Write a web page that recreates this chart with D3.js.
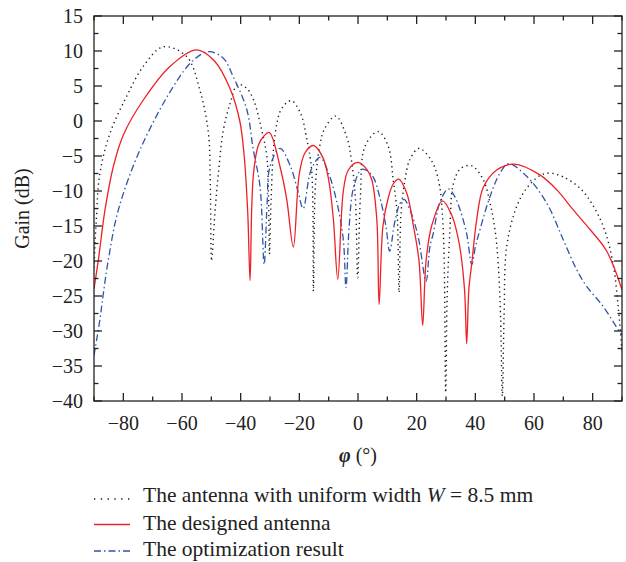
<!DOCTYPE html>
<html>
<head>
<meta charset="utf-8">
<script src="https://cdn.jsdelivr.net/npm/d3@7"></script>
<style>
  body { margin: 0; background: #fff; }
  svg text { font-family: "Liberation Serif", "DejaVu Serif", serif; fill: #222; }
</style>
</head>
<body>
<div id="chart"></div>
<script>
// Radiation pattern data: [phi (deg), gain (dB)]
var uniformWidth = [[-90,-21],[-89.2,-14],[-88,-7.5],[-84.5,-1.7],[-78.9,3.5],[-73.2,7.8],[-66.4,10.6],
  [-58.4,9.2],[-53.9,4.4],[-51,-1.7],[-50.4,-8],[-49.9,-20],[-48.8,-13.2],[-47.6,-7.5],[-45.9,-1.3],
  [-43.6,2.5],[-41,5.2],[-38,4.7],[-35.6,3],[-33,-1],[-31.1,-5],[-30.5,-11],[-30.2,-19],[-29.6,-11],
  [-28.3,-2],[-26,1.8],[-22.7,2.9],[-19.5,1],[-17.5,-2.5],[-15.8,-7],[-15.2,-24.3],[-14.5,-9],[-13,-3.5],
  [-11.5,-1.2],[-7.6,0.7],[-3.9,-2.2],[-2.1,-6],[-0.9,-11],[-0.1,-22.4],[0.8,-11],[2.4,-3.6],[6.9,-1.5],
  [10.3,-3.6],[12,-8.4],[13.3,-13],[14,-24.5],[14.7,-13],[16,-8.5],[17.7,-5.5],[20.8,-3.9],[24.8,-5.5],
  [27.4,-8.4],[29,-15],[29.9,-38.8],[30.4,-25],[31.3,-16],[32.5,-9],[35,-6.8],[38.8,-6.4],[42.7,-8.4],
  [45,-11.7],[46.7,-15.5],[47.8,-20.3],[48.6,-28],[49.2,-39.3],[49.8,-28],[50.7,-17.9],[54.1,-12.2],
  [57.5,-9.6],[62,-7.8],[65.5,-7.45],[70,-8],[75.7,-9.6],[80,-12],[84,-15.5],[87,-20.5],[88.8,-27],[90,-33]];

var designed = [[-90,-24],[-88.5,-19.8],[-86.25,-12.7],[-83.4,-6.5],[-80,-2],[-73.2,3],[-64.1,7.8],
  [-55,10.15],[-49,8.6],[-43.6,4.6],[-40.3,0],[-38.8,-5],[-37.6,-13],[-36.8,-22.8],[-36.2,-12],[-35.5,-7],
  [-34,-3.5],[-32,-2.1],[-30.2,-1.65],[-26.6,-6.5],[-24.3,-11.2],[-22.05,-18],[-20,-7.5],[-18,-4.5],
  [-15.2,-3.5],[-12,-5.2],[-10,-8.4],[-8.4,-14],[-6.9,-22.6],[-5,-10],[-3.3,-7],[-0.1,-5.9],[3,-6.9],
  [4.7,-8.4],[6.4,-14],[7.2,-26.2],[8.5,-15],[10.3,-11],[12,-9],[13.9,-8.3],[16.6,-10.3],[18.9,-15],
  [20.8,-20],[22.05,-29.2],[23.2,-20],[25.1,-15],[28.8,-11.4],[32,-13.5],[34.5,-17.5],[36.3,-24],
  [37.05,-31.8],[37.8,-24],[38.8,-20.3],[40.5,-14],[42.7,-9.5],[47.3,-7],[53.2,-6.16],[62,-7.7],
  [67.7,-9.8],[73.4,-12.7],[79.1,-15.5],[84.8,-18.6],[90,-24.1]];

var optimized = [[-90,-33.5],[-88,-28.4],[-86.8,-24.6],[-85.1,-19.8],[-81.7,-12.7],[-74.3,-4.1],[-63,4.9],
  [-56.1,8.7],[-50.8,9.9],[-46,9],[-42.5,6.3],[-37.9,1.6],[-35.7,-4.1],[-33.4,-9.35],[-32,-20.5],[-31,-12],
  [-30,-6.5],[-26.6,-3.9],[-23,-6.5],[-20.5,-10],[-18.7,-12.5],[-16,-7],[-12.95,-5.2],[-10,-7.5],[-7,-12],
  [-5,-17],[-4.1,-23.8],[-3,-15],[-1.5,-9.5],[1.3,-6.9],[4.7,-7.7],[7.5,-11],[9.5,-15],[10.8,-18.6],
  [12.5,-14.5],[14.3,-11.8],[15.7,-11.2],[18,-13],[20.5,-16.5],[23.2,-22.9],[24.5,-18],[25.7,-16],
  [28,-11.5],[30.8,-9.7],[33,-10.8],[34.8,-12.7],[37,-16],[38.8,-20.5],[40,-18],[41.6,-15.5],[45,-10.8],
  [48.4,-7.45],[51.3,-6.1],[57.5,-7.9],[64.3,-11.7],[70,-17],[74.5,-21.2],[77.9,-23.6],[83.6,-26.5],
  [88.7,-29.8],[90,-30.5]];

var xTicks = [-80, -60, -40, -20, 0, 20, 40, 60, 80];
var yTicks = [15, 10, 5, 0, -5, -10, -15, -20, -25, -30, -35, -40];

// Layout
var width = 626, height = 562;
var margin = { left: 94, right: 4, top: 16, bottom: 161 };
var plotW = width - margin.left - margin.right;
var plotH = height - margin.top - margin.bottom;

var svg = d3.select("#chart").append("svg")
    .attr("width", width)
    .attr("height", height);

var x = d3.scaleLinear().domain([-90, 90]).range([margin.left, margin.left + plotW]);
var y = d3.scaleLinear().domain([-40, 15]).range([margin.top + plotH, margin.top]);

svg.append("clipPath").attr("id", "plotClip")
  .append("rect")
    .attr("x", margin.left).attr("y", margin.top)
    .attr("width", plotW).attr("height", plotH);

var line = d3.line()
    .x(d => x(d[0]))
    .y(d => y(d[1]))
    .curve(d3.curveCatmullRom.alpha(0.5));

var series = [
  { data: uniformWidth, color: "#1a1a1a", width: 1.4, dash: "1.3,3.6", legendDash: "1.3,5.5" },
  { data: optimized, color: "#2f55a8", width: 1.3, dash: "7,3,1.5,3", legendDash: "7,3,1.5,3" },
  { data: designed, color: "#ee2027", width: 1.3, dash: null, legendDash: null }
];

var curves = svg.append("g").attr("clip-path", "url(#plotClip)");
series.forEach(function(s) {
  curves.append("path")
      .datum(s.data)
      .attr("d", line)
      .attr("fill", "none")
      .attr("stroke", s.color)
      .attr("stroke-width", s.width)
      .attr("stroke-dasharray", s.dash);
});

// Axes: ticks pointing inwards on all four sides
var axisColor = "#222";
var major = 8, minor = 4.5;
var xMinor = d3.range(-90, 91, 10).filter(v => xTicks.indexOf(v) < 0);
var yMinor = d3.range(-37.5, 15, 5);

var axes = svg.append("g").attr("stroke", axisColor).attr("stroke-width", 1.3);

function tickLines(vals, len, isX) {
  vals.forEach(function(v) {
    if (isX) {
      axes.append("line").attr("x1", x(v)).attr("x2", x(v))
          .attr("y1", margin.top + plotH).attr("y2", margin.top + plotH - len);
      axes.append("line").attr("x1", x(v)).attr("x2", x(v))
          .attr("y1", margin.top).attr("y2", margin.top + len);
    } else {
      axes.append("line").attr("y1", y(v)).attr("y2", y(v))
          .attr("x1", margin.left).attr("x2", margin.left + len);
      axes.append("line").attr("y1", y(v)).attr("y2", y(v))
          .attr("x1", margin.left + plotW).attr("x2", margin.left + plotW - len);
    }
  });
}
tickLines(xTicks, major, true);
tickLines(xMinor, minor, true);
tickLines(yTicks, major, false);
tickLines(yMinor, minor, false);

axes.append("rect")
    .attr("x", margin.left).attr("y", margin.top)
    .attr("width", plotW).attr("height", plotH)
    .attr("fill", "none");

var fmt = d3.format("");
var fontSize = 20;

svg.append("g").selectAll("text")
  .data(xTicks)
  .enter().append("text")
    .attr("x", d => x(d))
    .attr("y", 430)
    .attr("text-anchor", "middle")
    .attr("font-size", fontSize)
    .text(d => fmt(d));

svg.append("g").selectAll("text")
  .data(yTicks)
  .enter().append("text")
    .attr("x", 83)
    .attr("y", d => y(d))
    .attr("dy", "0.34em")
    .attr("text-anchor", "end")
    .attr("font-size", fontSize)
    .text(d => fmt(d));

// Axis titles
svg.append("text")
    .attr("transform", "translate(29," + (margin.top + plotH / 2) + ") rotate(-90)")
    .attr("text-anchor", "middle")
    .attr("font-size", fontSize)
    .text("Gain (dB)");

var xt = svg.append("text")
    .attr("x", x(0))
    .attr("y", 462)
    .attr("text-anchor", "middle")
    .attr("font-size", fontSize);
xt.append("tspan").attr("font-style", "italic").attr("font-weight", "bold").text("φ");
xt.append("tspan").text(" (°)");

// Legend
var legendSize = 21.5;
var legend = svg.append("g");
var legendRows = [
  { s: series[0], y: 499 },
  { s: series[2], y: 524.5 },
  { s: series[1], y: 551 }
];
legendRows.forEach(function(r) {
  legend.append("line")
      .attr("x1", 94).attr("x2", 130)
      .attr("y1", r.y).attr("y2", r.y)
      .attr("stroke", r.s.color)
      .attr("stroke-width", r.s.width)
      .attr("stroke-dasharray", r.s.legendDash);
});

var t1 = legend.append("text").attr("x", 143).attr("y", 502).attr("font-size", legendSize);
t1.append("tspan").text("The antenna with uniform width ");
t1.append("tspan").attr("font-style", "italic").text("W");
t1.append("tspan").text(" = 8.5 mm");

legend.append("text").attr("x", 143).attr("y", 529.5).attr("font-size", legendSize)
    .text("The designed antenna");
legend.append("text").attr("x", 143).attr("y", 556).attr("font-size", legendSize)
    .text("The optimization result");
</script>
</body>
</html>
